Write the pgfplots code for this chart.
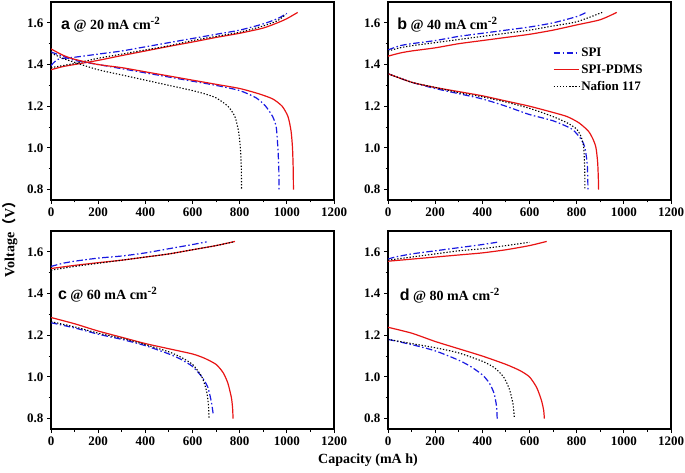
\documentclass[border=0pt]{standalone}
\usepackage{fontspec}
\setmainfont{Liberation Serif}
\newfontfamily\arial{Liberation Sans}
\newfontfamily\cjk{Noto Sans CJK SC}
\usepackage{pgfplots}
\pgfplotsset{compat=1.18}
\definecolor{spiblue}{RGB}{25,25,225}
\definecolor{pdmsred}{RGB}{232,20,20}
\definecolor{legblue}{RGB}{26,26,224}
\definecolor{legred}{RGB}{231,21,21}
\definecolor{legblack}{RGB}{1,1,1}
\tikzset{
 plab/.style={anchor=west, font=\fontsize{14}{16}\selectfont\bfseries},
 spi/.style={color=spiblue, line width=1.2pt, smooth, tension=0.4, dash pattern=on 6.5pt off 2.5pt on 1.5pt off 2.5pt},
 pdms/.style={color=pdmsred, line width=1.2pt, smooth, tension=0.4, solid},
 naf/.style={color=black, line width=1.1pt, smooth, tension=0.4, dash pattern=on 1.3pt off 1.8pt},
}
\pgfplotsset{
 myaxis/.style={
  scale only axis, width=283pt, height=198pt,
  xmin=0, xmax=1200, ymin=0.75, ymax=1.7,
  xtick={0,200,400,600,800,1000,1200}, ytick={0.8,1.0,1.2,1.4,1.6},
  minor x tick num=1, minor y tick num=1,
  tick align=outside, xtick pos=bottom, ytick pos=left,
  major tick length=4pt, minor tick length=2.5pt,
  axis line style={line width=1.2pt},
  every tick/.style={black, line width=0.9pt},
  tick label style={font=\fontsize{13}{15}\selectfont\bfseries},
  /pgf/number format/assume math mode=true,
  xticklabel style={/pgf/number format/set thousands separator={}},
  yticklabel style={/pgf/number format/.cd, fixed, fixed zerofill, precision=1},
 },
}
\newcommand{\plabel}[2]{{\arial\bfseries\fontsize{16}{16}\selectfont #1} @ #2 mA cm\textsuperscript{\fontsize{11}{11}\selectfont -2}}
\begin{document}
\begin{tikzpicture}[x=1pt,y=1pt]
\useasboundingbox (0,0) rectangle (685,472);
% ---------- a ----------
\begin{axis}[myaxis, at={(51pt,272pt)}, anchor=south west]
\addplot[spi] coordinates {(0,1.395)(30,1.425)(100,1.435)(200,1.45)(300,1.465)(400,1.485)(500,1.505)(600,1.525)(700,1.545)(800,1.565)(900,1.595)(960,1.62)(1000,1.645)};
\addplot[pdms] coordinates {(0,1.375)(50,1.39)(100,1.40)(200,1.42)(300,1.443)(400,1.465)(500,1.487)(600,1.508)(700,1.53)(800,1.55)(900,1.575)(960,1.60)(1000,1.62)(1046,1.65)};
\addplot[naf] coordinates {(0,1.385)(100,1.405)(200,1.43)(300,1.45)(400,1.47)(500,1.49)(600,1.515)(700,1.535)(800,1.555)(900,1.585)(960,1.61)(995,1.64)};
\addplot[spi] coordinates {(0,1.46)(50,1.44)(100,1.42)(200,1.40)(300,1.38)(400,1.36)(500,1.34)(600,1.32)(700,1.30)(800,1.275)(870,1.24)(910,1.20)(940,1.15)(955,1.10)(962,1.0)(966,0.9)(967,0.8)};
\addplot[pdms] coordinates {(0,1.475)(50,1.445)(100,1.425)(200,1.40)(300,1.385)(400,1.365)(500,1.345)(600,1.325)(700,1.305)(800,1.285)(880,1.26)(940,1.235)(980,1.20)(1005,1.15)(1018,1.08)(1024,1.0)(1027,0.9)(1028,0.8)};
\addplot[naf] coordinates {(0,1.455)(50,1.43)(100,1.41)(200,1.375)(300,1.35)(400,1.325)(500,1.30)(600,1.275)(650,1.26)(700,1.24)(750,1.20)(780,1.15)(795,1.08)(803,1.0)(807,0.9)(808,0.8)};
\node[plab] at (axis cs:28,1.59) {\plabel{a}{20}};
\end{axis}
% ---------- b ----------
\begin{axis}[myaxis, at={(388pt,272pt)}, anchor=south west,
  legend style={at={(axis cs:695,1.495)}, anchor=north west, draw=none, fill=none,
    font=\fontsize{13}{15}\selectfont\bfseries, row sep=2.5pt, inner sep=1pt},
  legend cell align=left]
\addlegendimage{legend image code/.code={\color{legblue}\pgfsetstrokecolor{legblue}\draw[legblue, line width=1.2pt, dash pattern=on 6.5pt off 2.5pt on 1.5pt off 2.5pt] (0pt,0pt) -- (25pt,0pt);}}
\addlegendentry{SPI}
\addlegendimage{legend image code/.code={\color{legred}\pgfsetstrokecolor{legred}\draw[legred, line width=1.2pt, solid] (0pt,0pt) -- (25pt,0pt);}}
\addlegendentry{SPI-PDMS}
\addlegendimage{legend image code/.code={\color{legblack}\pgfsetstrokecolor{legblack}\draw[legblack, line width=1.1pt, dash pattern=on 1.3pt off 1.8pt] (0pt,0pt) -- (25pt,0pt);}}
\addlegendentry{Nafion 117}
\addplot[spi, forget plot] coordinates {(0,1.47)(50,1.49)(100,1.50)(200,1.515)(300,1.535)(400,1.55)(500,1.565)(600,1.58)(700,1.60)(800,1.63)(840,1.65)};
\addplot[pdms, forget plot] coordinates {(0,1.44)(50,1.455)(100,1.465)(200,1.48)(300,1.50)(400,1.515)(500,1.53)(600,1.545)(700,1.565)(800,1.59)(900,1.615)(970,1.65)};
\addplot[naf, forget plot] coordinates {(0,1.465)(50,1.48)(100,1.49)(200,1.505)(300,1.52)(400,1.535)(500,1.55)(600,1.565)(700,1.585)(800,1.605)(908,1.65)};
\addplot[spi, forget plot] coordinates {(0,1.356)(100,1.315)(200,1.285)(300,1.26)(400,1.235)(500,1.20)(600,1.16)(700,1.13)(780,1.09)(820,1.04)(835,1.0)(845,0.92)(848,0.8)};
\addplot[pdms, forget plot] coordinates {(0,1.356)(100,1.315)(200,1.29)(300,1.27)(400,1.25)(500,1.225)(600,1.20)(700,1.17)(760,1.15)(810,1.12)(850,1.08)(870,1.04)(882,1.0)(889,0.93)(892,0.85)(893,0.8)};
\addplot[naf, forget plot] coordinates {(0,1.356)(100,1.315)(200,1.29)(300,1.265)(400,1.245)(500,1.22)(600,1.19)(700,1.15)(760,1.12)(800,1.09)(820,1.05)(830,1.0)(834,0.9)(835,0.8)};
\node[plab] at (axis cs:25,1.59) {\plabel{b}{40}};
\end{axis}
% ---------- c ----------
\begin{axis}[myaxis, at={(51pt,43pt)}, anchor=south west]
\addplot[spi] coordinates {(0,1.53)(50,1.545)(100,1.555)(200,1.57)(300,1.58)(400,1.595)(500,1.615)(600,1.635)(660,1.648)};
\addplot[pdms] coordinates {(0,1.52)(100,1.535)(200,1.548)(300,1.56)(400,1.575)(500,1.59)(600,1.61)(700,1.63)(780,1.65)};
\addplot[naf] coordinates {(0,1.512)(100,1.53)(200,1.545)(300,1.56)(400,1.575)(500,1.59)(600,1.61)(700,1.63)(775,1.648)};
\addplot[spi] coordinates {(0,1.26)(100,1.235)(200,1.205)(300,1.18)(400,1.15)(500,1.11)(550,1.085)(600,1.05)(640,1.00)(665,0.95)(680,0.88)(688,0.82)};
\addplot[pdms] coordinates {(0,1.285)(100,1.255)(200,1.22)(300,1.19)(400,1.16)(500,1.135)(600,1.11)(650,1.09)(700,1.06)(730,1.02)(750,0.97)(765,0.9)(770,0.85)(772,0.8)};
\addplot[naf] coordinates {(0,1.265)(100,1.24)(200,1.21)(300,1.185)(400,1.155)(500,1.12)(550,1.095)(600,1.06)(640,1.00)(660,0.93)(668,0.86)(670,0.8)};
\node[plab] at (axis cs:15,1.395) {\plabel{c}{60}};
\end{axis}
% ---------- d ----------
\begin{axis}[myaxis, at={(388pt,43pt)}, anchor=south west]
\addplot[spi] coordinates {(0,1.565)(30,1.575)(100,1.59)(200,1.605)(300,1.62)(400,1.635)(473,1.648)};
\addplot[pdms] coordinates {(0,1.555)(100,1.565)(200,1.575)(300,1.585)(400,1.595)(500,1.61)(600,1.63)(673,1.65)};
\addplot[naf] coordinates {(0,1.56)(100,1.575)(200,1.59)(300,1.605)(400,1.615)(500,1.63)(600,1.646)};
\addplot[spi] coordinates {(0,1.18)(100,1.155)(200,1.125)(300,1.08)(350,1.05)(400,1.01)(430,0.97)(450,0.92)(460,0.86)(463,0.8)};
\addplot[pdms] coordinates {(0,1.238)(100,1.21)(200,1.17)(300,1.135)(400,1.10)(500,1.06)(560,1.03)(600,1.00)(630,0.95)(650,0.89)(660,0.84)(663,0.8)};
\addplot[naf] coordinates {(0,1.18)(100,1.16)(200,1.14)(300,1.115)(400,1.075)(450,1.045)(490,1.00)(515,0.94)(530,0.87)(536,0.8)};
\node[plab] at (axis cs:35,1.39) {\plabel{d}{80}};
\end{axis}
\node[rotate=90, font=\fontsize{14}{16}\selectfont\bfseries] at (10,236) {Voltage{\cjk\bfseries （}V{\cjk\bfseries ）}};
\node[font=\fontsize{14}{16}\selectfont\bfseries] at (368,12) {Capacity (mA h)};
\end{tikzpicture}
\end{document}
